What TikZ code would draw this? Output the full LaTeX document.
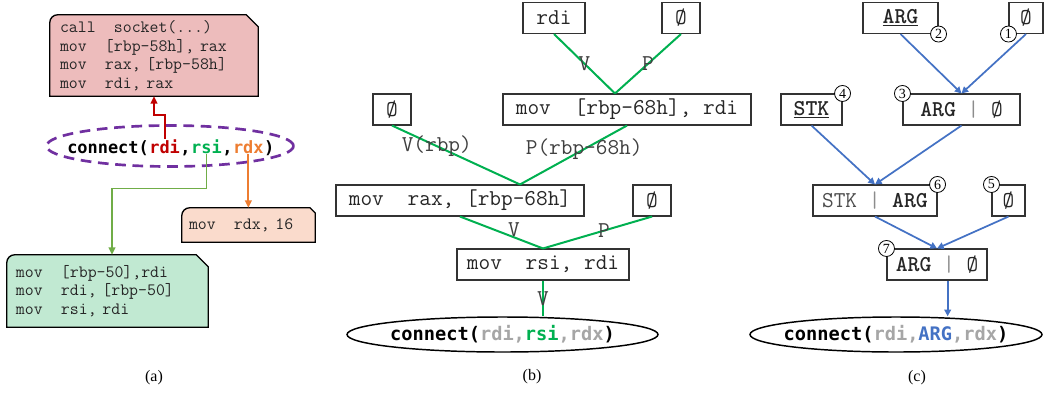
\documentclass[tikz,border=0pt]{standalone}
\usepackage{fontspec}
\setmainfont{Liberation Serif}
\newfontfamily\callfont{DejaVu Sans Mono}
\usetikzlibrary{arrows.meta,shapes.geometric,backgrounds}

\definecolor{pinkfill}{HTML}{EDBCBC}
\definecolor{mintfill}{HTML}{C1E9D2}
\definecolor{peachfill}{HTML}{FADBCC}
\definecolor{argred}{HTML}{C00000}
\definecolor{arggreen}{HTML}{00B050}
\definecolor{armgreen}{HTML}{70AD47}
\definecolor{argorange}{HTML}{ED7D31}
\definecolor{dashpurple}{HTML}{7030A0}
\definecolor{flowgreen}{HTML}{00B050}
\definecolor{depblue}{HTML}{4472C4}
\definecolor{argfade}{HTML}{A6A6A6}

% two monospace cells between mnemonic and operands
\newcommand{\asmgap}{\hspace*{1.05em}}
% code block with a rounded top left and a cut top right corner
\newcommand{\tagbox}[3]{%
  \begin{pgfonlayer}{background}
    \draw[line width=1pt, fill=#2] (#1.south west) -- ([yshift=-6pt]#1.north west)
      arc[start angle=180, end angle=90, radius=6pt] -- ([xshift=-#3]#1.north east)
      -- ([yshift=-#3]#1.north east) -- (#1.south east) -- cycle;
  \end{pgfonlayer}}

\begin{document}
\begin{tikzpicture}[x=0.75pt,y=-0.75pt]
  \tikzset{
    asmcode/.style={font=\fontsize{13}{13.9}\selectfont\ttfamily, text=black!85, align=left, inner ysep=0pt},
    insn/.style={draw=black!80, line width=.8pt, font=\fontsize{17}{20}\selectfont\ttfamily,
      text=black!85, minimum height=23.25pt, inner xsep=3.75pt, inner ysep=0pt},
    acall/.style={font=\fontsize{12.7}{15}\selectfont\callfont\bfseries, inner sep=0pt, anchor=base west},
    calltext/.style={font=\fontsize{14}{16}\selectfont\callfont\bfseries, inner sep=0pt},
    callbox/.style={draw, ellipse, line width=1.1pt, minimum height=26.25pt, inner sep=0pt},
    flow/.style={draw=flowgreen, line width=1.5pt},
    lbl/.style={font=\fontsize{17}{20}\selectfont\ttfamily, text=black!75, inner sep=0pt},
    dep/.style={draw=depblue, line width=1.3pt, -{Triangle[length=5pt,width=5pt]}},
    usearrow/.style={line width=1.3pt, -{Triangle[length=5.5pt,width=5pt]}},
    stepno/.style={circle, draw, fill=white, line width=.6pt, inner sep=0pt, minimum size=12pt,
      font=\fontsize{10.5}{10.5}\selectfont},
    subcap/.style={font=\fontsize{12}{14}\selectfont}
  }
  \useasboundingbox (0,0) rectangle (1048,393);

  % (a)
  \node[asmcode, text width=141pt, inner xsep=7.5pt, minimum height=60.75pt] (asock) at (154,55.5)
    {call\asmgap socket(...)\\mov\asmgap [rbp-58h], rax\\mov\asmgap rax, [rbp-58h]\\mov\asmgap rdi, rax};
  \tagbox{asock}{pinkfill}{9pt}
  \node[asmcode, text width=89.25pt, inner xsep=5.25pt, minimum height=25.5pt] (aimm) at (248.5,225)
    {mov\asmgap rdx, 16};
  \tagbox{aimm}{peachfill}{4pt}
  \node[asmcode, text width=137.25pt, inner xsep=6.75pt, minimum height=54pt] (amov) at (107.5,291)
    {mov\asmgap [rbp-50],rdi\\mov\asmgap rdi, [rbp-50]\\mov\asmgap rsi, rdi};
  \tagbox{amov}{mintfill}{9pt}
  \node[draw=dashpurple, ellipse, line width=2pt, dash pattern=on 8pt off 5pt, inner sep=0pt,
    minimum width=185.25pt, minimum height=30.75pt] (aell) at (170,146) {};
  \node[acall] (afn) at (67,153) {connect(};
  \node[acall, text=argred] (ardi) at (afn.base east) {rdi};
  \node[acall] (acm1) at (ardi.base east) {,};
  \node[acall, text=arggreen] (arsi) at (acm1.base east) {rsi};
  \node[acall] (acm2) at (arsi.base east) {,};
  \node[acall, text=argorange] (ardx) at (acm2.base east) {rdx};
  \node[acall] (acl) at (ardx.base east) {)};
  \draw[usearrow, draw=argred] (ardi.north) -- ++(0,-24) -| (asock.south);
  \draw[usearrow, draw=armgreen] (arsi.south) -- ++(0,35) -| ([xshift=3.4pt]amov.north);
  \draw[usearrow, draw=argorange] (ardx.south) -- (ardx.south |- aimm.north);
  \node[subcap] (capa) at (154,378) {(a)};

  % (b)
  \node[insn, minimum width=46.5pt] (brdi) at (554,18) {rdi};
  \node[insn, minimum width=28.5pt] (bnul1) at (681,18) {Ø};
  \node[insn, minimum width=186pt] (bstore) at (627,109.5) {mov\asmgap [rbp-68h], rdi};
  \node[insn, minimum width=28.5pt] (bnul2) at (392,109.5) {Ø};
  \node[insn, minimum width=186pt] (bload) at (460,200.5) {mov\asmgap rax, [rbp-68h]};
  \node[insn, minimum width=28.5pt] (bnul3) at (652,200.5) {Ø};
  \node[insn, minimum width=129pt] (bmove) at (543,264.5) {mov\asmgap rsi, rdi};
  \node[callbox, minimum width=233.25pt] (bsink) at (502.5,334.5) {};
  \node[calltext] (bcall) at (bsink)
    {connect(\textcolor{argfade}{rdi,}\textcolor{flowgreen}{rsi}\textcolor{argfade}{,rdx})};
  \draw[flow] (brdi.south) -- node[lbl] {V} ([xshift=-9pt]bstore.north);
  \draw[flow] (bnul1.south) -- node[lbl] {P} ([xshift=-9pt]bstore.north);
  \draw[flow] (bnul2.south) -- node[lbl, pos=.35] {V(rbp)} ([xshift=45pt]bload.north);
  \draw[flow] (bstore.south) -- node[lbl, pos=.4] {P(rbp-68h)} ([xshift=45pt]bload.north);
  \draw[flow] (bload.south) -- node[lbl, pos=.65, anchor=south] {V} (bmove.north);
  \draw[flow] (bnul3.south) -- node[lbl, pos=.44] {P} (bmove.north);
  \draw[flow] (bmove.south) -- node[lbl] {V} (bmove.south |- bsink.north);
  \node[subcap] (capb) at (532,377) {(b)};

  % (c)
  \node[insn, minimum width=56.25pt] (carg) at (900.5,18) {\textbf{\underline{ARG}}};
  \node[insn, minimum width=25.5pt] (cnul1) at (1026,18) {Ø};
  \node[insn, minimum width=87.75pt] (cargnul) at (961.5,109.5)
    {\textbf{ARG} \textcolor{black!45}{|} Ø};
  \node[insn, minimum width=45.75pt] (cstk) at (811.5,109.5) {\textbf{\underline{STK}}};
  \node[insn, minimum width=93pt] (cstkarg) at (875,200.5)
    {\textcolor{black!70}{STK} \textcolor{black!45}{|} \textbf{ARG}};
  \node[insn, minimum width=24.75pt] (cnul2) at (1008.5,200.5) {Ø};
  \node[insn, minimum width=75pt] (cargnul2) at (937,264.5)
    {\textbf{ARG} \textcolor{black!45}{|} Ø};
  \node[callbox, minimum width=219pt] (csink) at (896,334.5) {};
  \node[calltext] (ccall) at (csink)
    {connect(\textcolor{argfade}{rdi,}\textcolor{depblue}{ARG}\textcolor{argfade}{,rdx})};
  \draw[dep] (carg.south) -- (cargnul.north);
  \draw[dep] (cnul1.south) -- (cargnul.north);
  \draw[dep] (cstk.south) -- (cstkarg.north);
  \draw[dep] (cargnul.south) -- (cstkarg.north);
  \draw[dep] (cstkarg.south) -- (cargnul2.north);
  \draw[dep] (cnul2.south) -- (cargnul2.north);
  \draw[dep] ([xshift=8pt]cargnul2.south) -- ([xshift=8pt]cargnul2.south |- csink.north);
  \node[stepno] (s1) at (cnul1.south west) {1};
  \node[stepno] (s2) at (carg.south east) {2};
  \node[stepno] (s3) at (cargnul.north west) {3};
  \node[stepno] (s4) at (cstk.north east) {4};
  \node[stepno] (s5) at (cnul2.north west) {5};
  \node[stepno] (s6) at (cstkarg.north east) {6};
  \node[stepno] (s7) at (cargnul2.north west) {7};
  \node[subcap] (capc) at (917,378) {(c)};
\end{tikzpicture}
\end{document}
